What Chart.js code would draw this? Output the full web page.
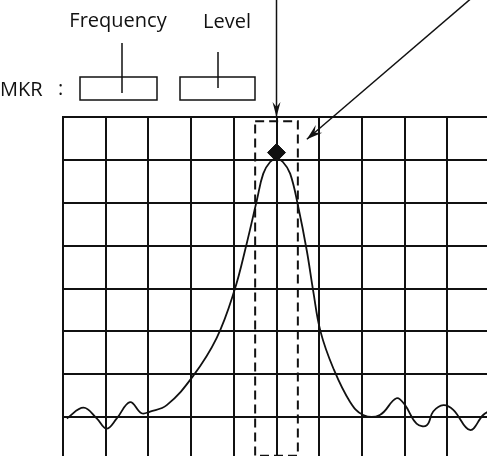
<!DOCTYPE html>
<html>
<head>
<meta charset="utf-8">
<script src="https://cdn.jsdelivr.net/npm/chart.js@4.4.1/dist/chart.umd.min.js"></script>
<style>
  html, body { margin: 0; padding: 0; background: #fff; overflow: hidden; }
  #wrap { width: 500px; height: 470px; }
</style>
</head>
<body>
<div id="wrap"><canvas id="c" width="500" height="470"></canvas></div>
<script>
// trace, in divisions (x: 0..10, y: 0..8)
const traceX = [0.09, 0.48, 0.79, 1.02, 1.26, 1.57, 1.84, 2.04, 2.43, 3.04, 3.6, 4.01, 4.3, 4.54, 4.69, 4.85, 5.0,
  5.15, 5.32, 5.51, 5.71, 5.86, 6.03, 6.33, 6.72, 7.03, 7.42, 7.81, 8.01, 8.28, 8.52, 8.67, 8.91, 9.14, 9.53, 9.84, 10];
const traceY = [0.97, 1.22, 0.97, 0.73, 0.97, 1.35, 1.09, 1.13, 1.28, 1.95, 2.85, 3.94, 5.04, 6.06, 6.68, 6.95, 7.03,
  6.95, 6.68, 5.9, 4.88, 3.94, 3.0, 2.14, 1.36, 1.05, 1.05, 1.44, 1.28, 0.85, 0.81, 1.13, 1.28, 1.17, 0.7, 1.05, 1.15];
const markerX = [5.0];
const markerY = [7.17];
const windowX = [4.5, 5.5];   // dashed marker window
const windowY = [0.1, 7.9];

const ink = '#111';

const overlay = {
  id: 'overlay',
  afterDraw(chart) {
    const { ctx, scales: { x, y } } = chart;
    ctx.save();
    ctx.strokeStyle = ink;
    ctx.fillStyle = ink;

    // dashed window around marker
    ctx.lineWidth = 2;
    ctx.setLineDash([9, 5]);
    const x0 = x.getPixelForValue(windowX[0]), x1 = x.getPixelForValue(windowX[1]);
    const y0 = y.getPixelForValue(windowY[1]), y1 = y.getPixelForValue(windowY[0]);
    ctx.strokeRect(x0, y0, x1 - x0, y1 - y0);
    ctx.setLineDash([]);

    // vertical marker arrow from the top
    const mx = x.getPixelForValue(markerX[0]);
    const top = chart.chartArea.top;
    ctx.lineWidth = 1.5;
    ctx.beginPath();
    ctx.moveTo(mx, 0);
    ctx.lineTo(mx, top);
    ctx.stroke();
    ctx.beginPath();
    ctx.moveTo(mx, top);
    ctx.lineTo(mx - 4, top - 15);
    ctx.lineTo(mx, top - 10);
    ctx.lineTo(mx + 4, top - 15);
    ctx.closePath();
    ctx.fill();

    // diagonal arrow pointing at the window
    const ax = x1 + 9, ay = y0 + 18;
    const sx = 474, sy = -4;
    ctx.beginPath();
    ctx.moveTo(sx, sy);
    ctx.lineTo(ax, ay);
    ctx.stroke();
    const ang = Math.atan2(ay - sy, ax - sx);
    const len = 16, wid = 5;
    ctx.beginPath();
    ctx.moveTo(ax, ay);
    ctx.lineTo(ax - len * Math.cos(ang) + wid * Math.sin(ang), ay - len * Math.sin(ang) - wid * Math.cos(ang));
    ctx.lineTo(ax - 10 * Math.cos(ang), ay - 10 * Math.sin(ang));
    ctx.lineTo(ax - len * Math.cos(ang) - wid * Math.sin(ang), ay - len * Math.sin(ang) + wid * Math.cos(ang));
    ctx.closePath();
    ctx.fill();

    // MKR header
    ctx.font = '20px "Open Sans", "DejaVu Sans", sans-serif';
    ctx.textBaseline = 'alphabetic';
    ctx.textAlign = 'center';
    ctx.fillText('Frequency', 118, 27);
    ctx.fillText('Level', 227, 28);
    ctx.textAlign = 'left';
    ctx.fillText('MKR', 0, 96);
    ctx.fillText(':', 58, 95);

    ctx.lineWidth = 1.5;
    ctx.strokeRect(80, 77, 77, 23);
    ctx.strokeRect(180, 77, 75, 23);
    ctx.beginPath();
    ctx.moveTo(122, 43); ctx.lineTo(122, 93);
    ctx.moveTo(218, 52); ctx.lineTo(218, 88);
    ctx.stroke();
    ctx.restore();
  }
};

new Chart(document.getElementById('c'), {
  type: 'scatter',
  data: {
    datasets: [
      {
        data: traceX.map((v, i) => ({ x: v, y: traceY[i] })),
        showLine: true,
        borderColor: ink,
        borderWidth: 1.8,
        pointRadius: 0,
        tension: 0.4,
        order: 2
      },
      {
        data: markerX.map((v, i) => ({ x: v, y: markerY[i] })),
        pointStyle: 'rectRot',
        pointRadius: 9,
        backgroundColor: ink,
        borderColor: ink,
        order: 1
      }
    ]
  },
  options: {
    responsive: false,
    animation: false,
    layout: { padding: { left: 63, top: 117, right: 2, bottom: 2 } },
    plugins: { legend: { display: false }, tooltip: { enabled: false } },
    scales: {
      x: {
        type: 'linear', min: 0, max: 10,
        ticks: { display: false, stepSize: 1 },
        grid: { color: ink, lineWidth: 2, drawTicks: false },
        border: { color: ink, width: 2 }
      },
      y: {
        type: 'linear', min: 0, max: 8,
        ticks: { display: false, stepSize: 1 },
        grid: { color: ink, lineWidth: 2, drawTicks: false },
        border: { color: ink, width: 2 }
      }
    }
  },
  plugins: [overlay]
});
</script>
</body>
</html>
